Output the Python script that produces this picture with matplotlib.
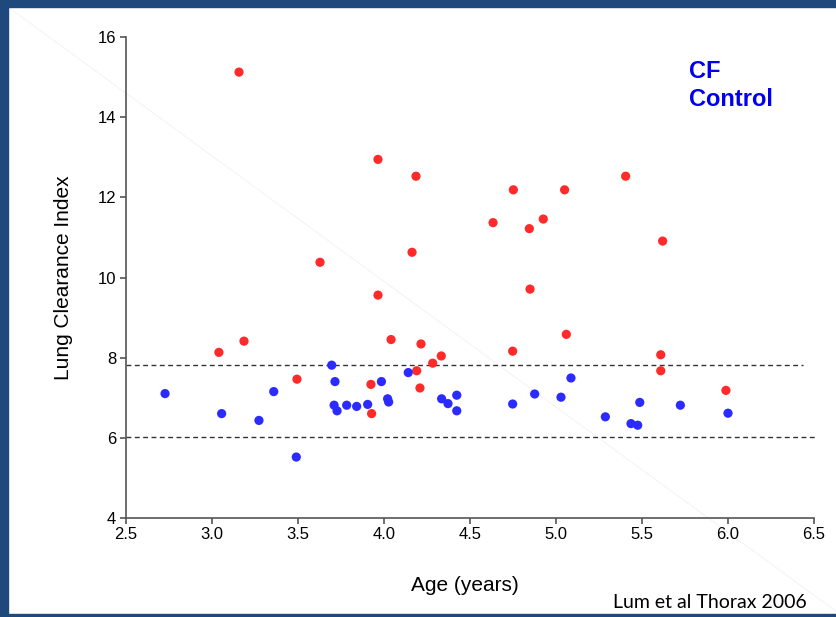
import matplotlib.pyplot as plt
from matplotlib.lines import Line2D
from matplotlib.patches import Rectangle

plt.rcParams['font.family'] = ['Liberation Sans', 'DejaVu Sans']

# CF группа (красные точки)
cf_age = [3.157, 3.04, 3.186, 3.494, 3.628, 3.965, 3.965, 3.924, 3.928, 4.041,
          4.186, 4.163, 4.215, 4.19, 4.209, 4.283, 4.333, 4.634, 4.752, 4.845,
          4.926, 4.849, 5.05, 5.405, 5.62, 5.06, 4.748, 5.609, 5.609, 5.988]
cf_lci = [15.13, 8.13, 8.41, 7.46, 10.38, 12.95, 9.56, 7.33, 6.60, 8.45,
          12.53, 10.63, 8.34, 7.67, 7.24, 7.86, 8.04, 11.37, 12.19, 11.22,
          11.46, 9.71, 12.19, 12.53, 10.91, 8.58, 8.16, 8.07, 7.67, 7.18]

# Контрольная группа (синие точки)
ctrl_age = [2.727, 3.056, 3.273, 3.359, 3.49, 3.696, 3.715, 3.71, 3.727, 3.783,
            3.841, 3.905, 3.985, 4.021, 4.027, 4.141, 4.335, 4.372, 4.423, 4.423,
            4.748, 4.876, 5.029, 5.087, 5.287, 5.436, 5.475, 5.487, 5.723, 6.0]
ctrl_lci = [7.10, 6.60, 6.43, 7.15, 5.515, 7.81, 7.40, 6.81, 6.67, 6.81,
            6.78, 6.83, 7.40, 6.97, 6.89, 7.625, 6.97, 6.85, 7.06, 6.67,
            6.84, 7.09, 7.01, 7.49, 6.52, 6.35, 6.31, 6.88, 6.81, 6.61]

# Пунктирные линии (верхняя граница нормы и среднее)
limit_lines = [7.825, 6.015]
limit_ends = [6.436, 6.517]

x_ticks = [2.5, 3.0, 3.5, 4.0, 4.5, 5.0, 5.5, 6.0, 6.5]
y_ticks = [4, 6, 8, 10, 12, 14, 16]

W, H = 837, 617
fig = plt.figure(figsize=(W / 100, H / 100), dpi=100)
fig.patch.set_facecolor('white')

# слабая диагональная линия слайда
fig.add_artist(Line2D([8 / W, 1.0], [1 - 7 / H, 5 / H], transform=fig.transFigure,
                      color='#f3f3f3', lw=0.7, zorder=0))

# синяя рамка слайда
border = '#1f497d'
fig.add_artist(Rectangle((0, 0), 8 / W, 1, transform=fig.transFigure, color=border, zorder=5))
fig.add_artist(Rectangle((0, 1 - 7 / H), 1, 7 / H, transform=fig.transFigure, color=border, zorder=5))
fig.add_artist(Rectangle((0, 0), 1, 3 / H, transform=fig.transFigure, color=border, zorder=5))

ax = fig.add_axes([126 / W, (H - 517.7) / H, 688 / W, 480.4 / H])
ax.set_facecolor('none')

for yv, xe in zip(limit_lines, limit_ends):
    ax.plot([2.5, xe], [yv, yv], color='#333333', lw=1, dashes=(3.5, 2.5), clip_on=False, zorder=2)

ax.scatter(cf_age, cf_lci, s=44, color='#ff2b2b', edgecolors='none', zorder=3)
ax.scatter(ctrl_age, ctrl_lci, s=44, color='#2b2bff', edgecolors='none', zorder=3)

ax.set_xlim(2.5, 6.5)
ax.set_ylim(4, 16)
ax.set_xticks(x_ticks)
ax.set_xticklabels([f'{v:.1f}' for v in x_ticks])
ax.set_yticks(y_ticks)

for s in ['top', 'right']:
    ax.spines[s].set_visible(False)
for s in ['left', 'bottom']:
    ax.spines[s].set_color('#555555')
    ax.spines[s].set_linewidth(1.2)
ax.tick_params(colors='#555555', labelcolor='black', labelsize=12, length=4, width=1.2, pad=3)

ax.set_ylabel('Lung Clearance Index', fontsize=15)
ax.yaxis.set_label_coords(-0.077, 0.5)
ax.set_xlabel('Age (years)', fontsize=15)
ax.xaxis.set_label_coords(0.4927, -0.121)

fig.text(689 / W, 1 - 71 / H, 'CF', color='#0000ee', fontsize=17, fontweight='bold', va='center')
fig.text(689 / W, 1 - 100 / H, 'Control', color='#0000ee', fontsize=17, fontweight='bold', va='center')

fig.text(807 / W, (H - 608) / H, 'Lum et al Thorax 2006', family=['Lato', 'DejaVu Sans'],
         fontsize=14, ha='right', va='baseline')

fig.savefig('out.png', dpi=100)
